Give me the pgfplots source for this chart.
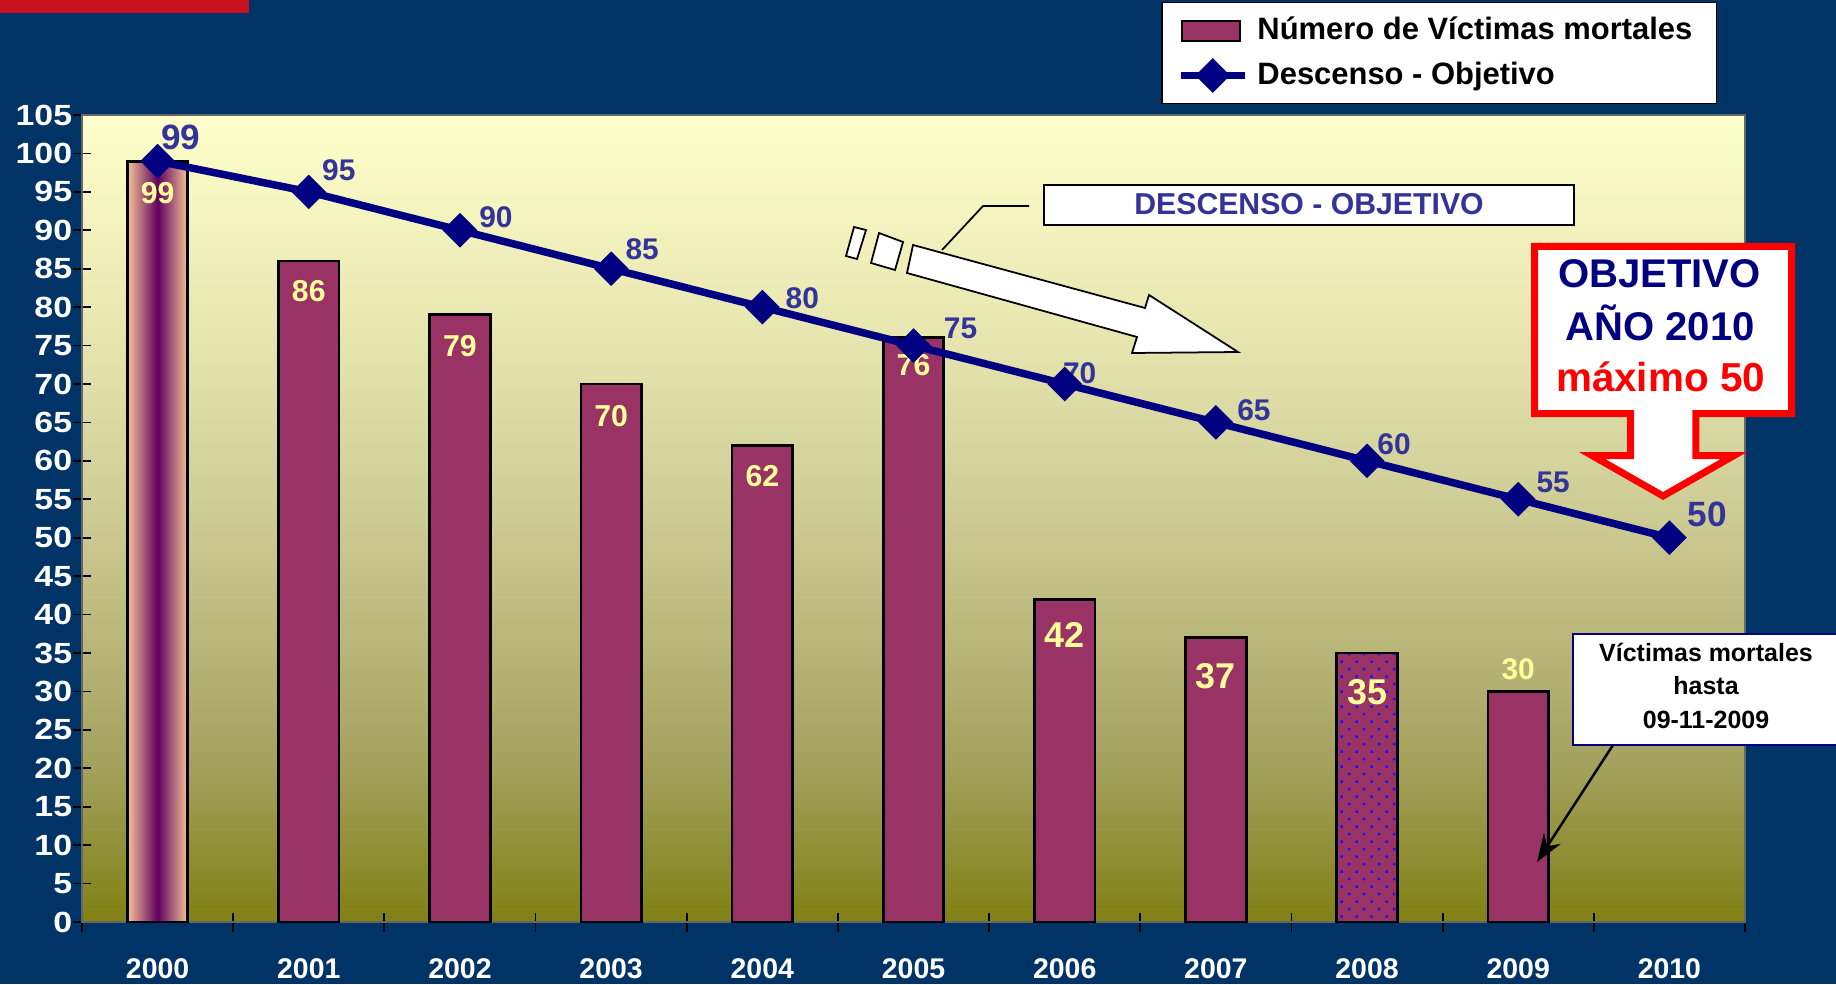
\documentclass[border=0pt]{standalone}
\usepackage{pgfplots}
\pgfplotsset{compat=1.18}
\usepackage{fontspec}
\setmainfont{Liberation Sans}
\newfontfamily\ytf{Liberation Sans}[FakeStretch=1.16]
\usetikzlibrary{patterns.meta,arrows.meta}

\definecolor{bgnavy}{RGB}{0,51,102}
\definecolor{topred}{RGB}{200,16,32}
\definecolor{barcol}{RGB}{153,51,102}
\definecolor{peach}{RGB}{246,196,150}
\definecolor{dpurple}{RGB}{96,0,96}
\definecolor{navyline}{RGB}{0,0,128}
\definecolor{lblblue}{RGB}{51,51,153}
\definecolor{lblyellow}{RGB}{255,255,153}
\definecolor{dotblue}{RGB}{20,20,255}
\definecolor{bgA}{RGB}{128,128,20}
\definecolor{bgB}{RGB}{165,162,95}
\definecolor{bgC}{RGB}{205,203,148}
\definecolor{bgD}{RGB}{232,231,178}
\definecolor{bgE}{RGB}{255,255,204}
\pgfdeclareverticalshading{plotbg}{100bp}{color(0bp)=(bgA); color(25bp)=(bgA); color(35bp)=(bgB); color(50bp)=(bgC); color(62bp)=(bgD); color(75bp)=(bgE); color(100bp)=(bgE)}

\newcommand{\fs}[1]{\bfseries\fontsize{#1}{#1}\selectfont}

\begin{document}
\begin{tikzpicture}
\fill[bgnavy] (0,0) rectangle (18.36cm,9.84cm);
\fill[topred] (0,9.71cm) rectangle (2.49cm,9.84cm);

\begin{axis}[
  at={(0.82cm,0.62cm)}, anchor=south west,
  scale only axis, width=16.63cm, height=8.07cm,
  xmin=-0.5, xmax=10.5, ymin=0, ymax=105,
  clip=false,
  axis background/.style={shading=plotbg},
  axis line style={draw=gray!80!black, line width=0.6pt},
  ytick={0,5,...,105},
  xtick={-0.5,0.5,...,10.5}, xticklabels={},
  extra x ticks={0,1,...,10},
  extra x tick labels={2000,2001,2002,2003,2004,2005,2006,2007,2008,2009,2010},
  extra x tick style={major tick length=0pt},
  tick pos=left,
  tick align=center, major tick length=1.9mm,
  tick style={black, line width=0.5pt},
  /pgf/number format/assume math mode=true,
  xticklabel style={font=\fs{8.1}, text=white},
  yticklabel style={font=\ytf\fs{8.3}, text=white},
  xticklabel shift=2.4mm, yticklabel shift=-1.2mm,
  legend style={at={(0.9832,1.140)}, anchor=north east, fill=white, draw=black,
    line width=0.4pt, font=\fs{8.8}, text=black, inner xsep=1.5mm, inner ysep=1.0mm, row sep=0.9mm,
    nodes={inner ysep=0.4mm, inner xsep=0.9mm}},
  legend cell align=left,
]
% regular bars
\addplot[ybar, bar width=0.4, bar shift=0pt, fill=barcol, draw=black, line width=0.8pt,
  legend image code/.code={\draw[fill=barcol, draw=black, line width=0.6pt] (0mm,-1mm) rectangle (5.8mm,1mm);}]
  coordinates {(1,86) (2,79) (3,70) (4,62) (5,76) (6,42) (7,37) (9,30)};
\addlegendentry{Número de Víctimas mortales}
% 2000 bar (gradient)
\addplot[ybar, bar width=0.4, bar shift=0pt, left color=peach, right color=peach, middle color=dpurple,
  draw=black, line width=0.8pt, forget plot]
  coordinates {(0,99)};
% 2008 bar (dotted)
\addplot[ybar, bar width=0.4, bar shift=0pt, fill=barcol, draw=black, line width=0.8pt,
  postaction={pattern={Dots[distance=1.06mm, angle=45, radius=0.17mm]}, pattern color=dotblue}, forget plot]
  coordinates {(8,35)};
% target line
\addplot[navyline, line width=0.75mm, mark=square*, mark size=0.85mm, mark options={rotate=45, solid, fill=navyline},
  legend image code/.code={\draw[navyline, line width=0.75mm] (-0.1mm,0mm) -- (6.3mm,0mm);
     \fill[navyline] (3.1mm,-1.2mm) -- (4.3mm,0mm) -- (3.1mm,1.2mm) -- (1.9mm,0mm) -- cycle;}]
  coordinates {(0,99) (1,95) (2,90) (3,85) (4,80) (5,75) (6,70) (7,65) (8,60) (9,55) (10,50)};
\addlegendentry{Descenso - Objetivo}

% line labels
\node[font=\fs{10}, text=lblblue, xshift=2.3mm, yshift=2.35mm] at (axis cs:0,99) {99};
\node[font=\fs{8.5}, text=lblblue, xshift=3.0mm, yshift=2.2mm] at (axis cs:1,95) {95};
\node[font=\fs{8.5}, text=lblblue, xshift=3.6mm, yshift=1.3mm] at (axis cs:2,90) {90};
\node[font=\fs{8.5}, text=lblblue, xshift=3.1mm, yshift=1.9mm] at (axis cs:3,85) {85};
\node[font=\fs{8.5}, text=lblblue, xshift=4.0mm, yshift=0.9mm] at (axis cs:4,80) {80};
\node[font=\fs{8.5}, text=lblblue, xshift=4.7mm, yshift=1.7mm] at (axis cs:5,75) {75};
\node[font=\fs{8.5}, text=lblblue, xshift=1.5mm, yshift=1.1mm] at (axis cs:6,70) {70};
\node[font=\fs{8.5}, text=lblblue, xshift=3.8mm, yshift=1.2mm] at (axis cs:7,65) {65};
\node[font=\fs{8.5}, text=lblblue, xshift=2.7mm, yshift=1.7mm] at (axis cs:8,60) {60};
\node[font=\fs{8.5}, text=lblblue, xshift=3.5mm, yshift=1.7mm] at (axis cs:9,55) {55};
\node[font=\fs{10}, text=lblblue, xshift=3.8mm, yshift=2.3mm] at (axis cs:10,50) {50};

% bar labels
\node[font=\fs{8.6}, text=lblyellow, yshift=-3.15mm] at (axis cs:0,99) {99};
\node[font=\fs{8.6}, text=lblyellow, yshift=-3.05mm] at (axis cs:1,86) {86};
\node[font=\fs{8.6}, text=lblyellow, yshift=-3.1mm] at (axis cs:2,79) {79};
\node[font=\fs{8.6}, text=lblyellow, yshift=-3.2mm] at (axis cs:3,70) {70};
\node[font=\fs{8.6}, text=lblyellow, yshift=-3.1mm] at (axis cs:4,62) {62};
\node[font=\fs{8.6}, text=lblyellow, yshift=-2.7mm] at (axis cs:5,76) {76};
\node[font=\fs{10.2}, text=lblyellow, yshift=-3.55mm] at (axis cs:6,42) {42};
\node[font=\fs{10.2}, text=lblyellow, yshift=-3.9mm] at (axis cs:7,37) {37};
\node[font=\fs{10.2}, text=lblyellow, yshift=-3.9mm] at (axis cs:8,35) {35};
\node[font=\fs{8.5}, text=lblyellow, yshift=2.2mm] at (axis cs:9,30) {30};
\end{axis}

\begin{scope}[shift={(0,98.4mm)}, x=0.1mm, y=-0.1mm]
% big white arrow and its trailing stripes
\draw[fill=white, line width=0.5pt, line join=miter] (913,245) -- (1145,308) -- (1149,295) -- (1238,352) -- (1132,353) -- (1137,337) -- (907,273) -- cycle;
\draw[fill=white, line width=0.5pt] (854,227) -- (866,230) -- (857,259) -- (846,256) -- cycle;
\draw[fill=white, line width=0.5pt] (879,233) -- (903,242) -- (895,270) -- (871,263) -- cycle;
% callout
\draw[line width=0.5pt] (1029,206) -- (983,206) -- (942,250);
\draw[fill=white, line width=0.6pt] (1044,185) rectangle (1574,225);
\node[font=\fs{8.6}, text=lblblue, anchor=base] at (1309,215) {DESCENSO - OBJETIVO};
% objective callout
\draw[red, line width=0.7mm, fill=white, line join=miter] (1534.5,246.5) -- (1791.5,246.5) -- (1791.5,413.5) -- (1695.8,413.5) -- (1695.8,455.5) -- (1734,455.5) -- (1663,496) -- (1592,455.5) -- (1630.5,455.5) -- (1630.5,413.5) -- (1534.5,413.5) -- cycle;
\node[font=\fs{11.4}, text=navyline, anchor=base] at (1659.5,288) {OBJETIVO};
\node[font=\fs{11.4}, text=navyline, anchor=base] at (1660,340) {AÑO 2010};
\node[font=\fs{11.5}, text=red, anchor=base] at (1660.5,391) {máximo 50};
% victims box
\draw[navyline, line width=0.5pt, fill=white] (1573,634) rectangle (1845,745);
\node[font=\fs{7.1}, text=black, anchor=base] at (1706,661) {Víctimas mortales};
\node[font=\fs{7.1}, text=black, anchor=base] at (1706,694) {hasta};
\node[font=\fs{7.1}, text=black, anchor=base] at (1706,728) {09-11-2009};
\draw[-{Stealth[length=2.8mm,width=2mm]}, line width=0.7pt] (1613,745) -- (1537,862);
\end{scope}

\pgfresetboundingbox
\useasboundingbox (0,0) rectangle (18.36cm,9.84cm);
\end{tikzpicture}
\end{document}
